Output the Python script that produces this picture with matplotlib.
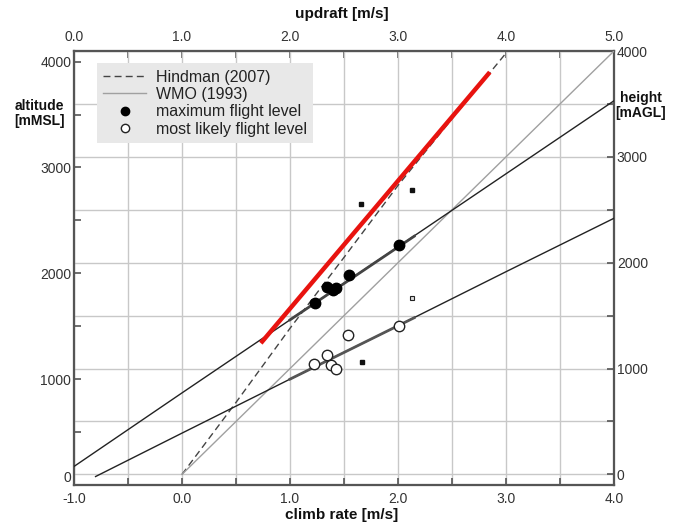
import matplotlib
matplotlib.use("Agg")
import matplotlib.pyplot as plt
from matplotlib.ticker import MultipleLocator
from matplotlib.lines import Line2D

plt.rcParams['font.family'] = ['Liberation Sans', 'DejaVu Sans']

# ---------------- data ----------------
ground_offset = 100  # altitude (mMSL) minus height (mAGL)

# Hindman (2007), height (mAGL) vs climb rate
hindman_climb = [0.0, 0.5, 1.0, 1.5, 2.0, 2.5, 3.0]
hindman_height = [0, 680, 1380, 2050, 2730, 3360, 3980]

# WMO (1993), height (mAGL) vs climb rate
wmo_climb = [0.0, 4.0]
wmo_height = [0, 4000]

# regression lines (altitude mMSL vs climb rate)
upper_climb = [-1.0, 0.0, 1.0, 2.0, 3.0, 4.0]
upper_alt = [175, 870, 1560, 2250, 2940, 3630]
upper_fit_climb = [1.0, 2.15]
upper_fit_alt = [1560, 2350]

lower_climb = [-0.8, 0.0, 1.0, 2.0, 3.0, 4.0]
lower_alt = [80, 490, 1000, 1505, 2015, 2520]
lower_fit_climb = [1.0, 2.15]
lower_fit_alt = [1000, 1580]

# red line
red_climb = [0.73, 2.85]
red_alt = [1340, 3900]

# maximum flight level (filled)
max_climb = [1.23, 1.34, 1.40, 1.43, 1.55, 2.01]
max_alt = [1715, 1870, 1840, 1865, 1980, 2265]

# most likely flight level (open)
likely_climb = [1.22, 1.34, 1.38, 1.43, 1.54, 2.01]
likely_alt = [1140, 1225, 1130, 1100, 1415, 1500]

# small square markers
sq_fill_climb = [1.66, 2.13, 1.665]
sq_fill_alt = [2655, 2790, 1165]
sq_open_climb = [2.13]
sq_open_alt = [1765]

xticks_bottom = [-1.0, 0.0, 1.0, 2.0, 3.0, 4.0]
xticks_top = [0.0, 1.0, 2.0, 3.0, 4.0, 5.0]
yticks = [0, 1000, 2000, 3000, 4000]

# ---------------- figure ----------------
fig = plt.figure(figsize=(6.83, 5.27), dpi=100, facecolor='white')
ax = fig.add_axes([0.1083, 0.0797, 0.7907, 0.8235])
axr = ax.twinx()
axt = ax.twiny()

ax.set_zorder(3)
axt.set_zorder(2)
axr.set_zorder(1)
ax.patch.set_visible(False)
axt.patch.set_visible(False)
axr.patch.set_facecolor('white')

ax.set_xlim(-1.0, 4.0)
ax.set_ylim(0, 4100)
axt.set_xlim(0.0, 5.0)
axr.set_ylim(-ground_offset, 4100 - ground_offset)

grid_c = '#c8c8c8'
spine_c = '#555555'
tick_c = '#333333'

# ticks
ax.set_xticks(xticks_bottom)
ax.set_xticklabels([f"{v:.1f}" for v in xticks_bottom])
ax.xaxis.set_minor_locator(MultipleLocator(0.5))
ax.set_yticks(yticks)
ax.yaxis.set_minor_locator(MultipleLocator(500))
axt.set_xticks(xticks_top)
axt.set_xticklabels([f"{v:.1f}" for v in xticks_top])
axt.xaxis.set_minor_locator(MultipleLocator(0.5))
axr.set_yticks(yticks)
axr.yaxis.set_minor_locator(MultipleLocator(500))

for a in (ax, axr, axt):
    a.tick_params(which='both', direction='in', length=5, width=1.2,
                  color=spine_c, labelsize=10, labelcolor=tick_c, pad=2)
    for s in a.spines.values():
        s.set_color(spine_c)
        s.set_linewidth(1.5)
ax.tick_params(axis='x', pad=5)
axt.tick_params(axis='x', pad=5)

# lift the left "0" label so it sits above the bottom "-1.0" label
ax.get_yticklabels()[0].set_verticalalignment('bottom')

# grids
ax.xaxis.grid(True, which='both', color=grid_c, linewidth=1.0)
axr.yaxis.grid(True, which='both', color=grid_c, linewidth=1.0)
ax.set_axisbelow(True)

# lines
ax.plot(hindman_climb, [h + ground_offset for h in hindman_height],
        linestyle=(0, (5, 3)), color='#444444', linewidth=1.0, zorder=3)
ax.plot(wmo_climb, [h + ground_offset for h in wmo_height],
        color='#a0a0a0', linewidth=1.0, zorder=3)
ax.plot(upper_climb, upper_alt, color='#222222', linewidth=1.0, zorder=3)
ax.plot(lower_climb, lower_alt, color='#222222', linewidth=1.0, zorder=3)
ax.plot(upper_fit_climb, upper_fit_alt, color='#444444', linewidth=2.0, zorder=3)
ax.plot(lower_fit_climb, lower_fit_alt, color='#555555', linewidth=2.0, zorder=3)
ax.plot(red_climb, red_alt, color='#e8130f', linewidth=3.2, zorder=4,
        solid_capstyle='butt')

ax.plot(max_climb, max_alt, 'o', color='black', markersize=7.5, zorder=5)
ax.plot(likely_climb, likely_alt, 'o', markerfacecolor='white',
        markeredgecolor='#222222', markeredgewidth=1.0, markersize=7.5, zorder=5)
ax.plot(sq_fill_climb, sq_fill_alt, 's', color='#111111', markersize=3, zorder=5)
ax.plot(sq_open_climb, sq_open_alt, 's', markerfacecolor='#dddddd',
        markeredgecolor='#222222', markeredgewidth=0.8, markersize=3.5, zorder=5)

# legend
handles = [
    Line2D([], [], linestyle=(0, (5, 3)), color='#444444', linewidth=1.0),
    Line2D([], [], color='#a0a0a0', linewidth=1.0),
    Line2D([], [], marker='o', linestyle='none', color='black', markersize=6),
    Line2D([], [], marker='o', linestyle='none', markerfacecolor='white',
           markeredgecolor='#222222', markersize=6),
]
labels = ['Hindman (2007)', 'WMO (1993)', 'maximum flight level',
          'most likely flight level']
leg = ax.legend(handles, labels, loc='upper left', bbox_to_anchor=(0.042, 0.972),
                frameon=True, facecolor='#e8e8e8', edgecolor='none', framealpha=1,
                fancybox=False, fontsize=11.5, handlelength=2.7, handletextpad=0.6,
                labelspacing=0.15, borderpad=0.4, borderaxespad=0)
for t in leg.get_texts():
    t.set_color('#222222')

# axis labels
fig.text(0.5, 0.973, 'updraft [m/s]', ha='center', va='center',
         fontsize=11, fontweight='bold', color='#111111')
fig.text(0.5, 0.022, 'climb rate [m/s]', ha='center', va='center',
         fontsize=11, fontweight='bold', color='#111111')
fig.text(0.058, 0.785, 'altitude\n[mMSL]', ha='center', va='center',
         fontsize=10, fontweight='bold', color='#111111', linespacing=1.1)
fig.text(0.938, 0.800, 'height\n[mAGL]', ha='center', va='center',
         fontsize=10, fontweight='bold', color='#111111', linespacing=1.1)

fig.savefig('out.png', dpi=100, facecolor='white')
